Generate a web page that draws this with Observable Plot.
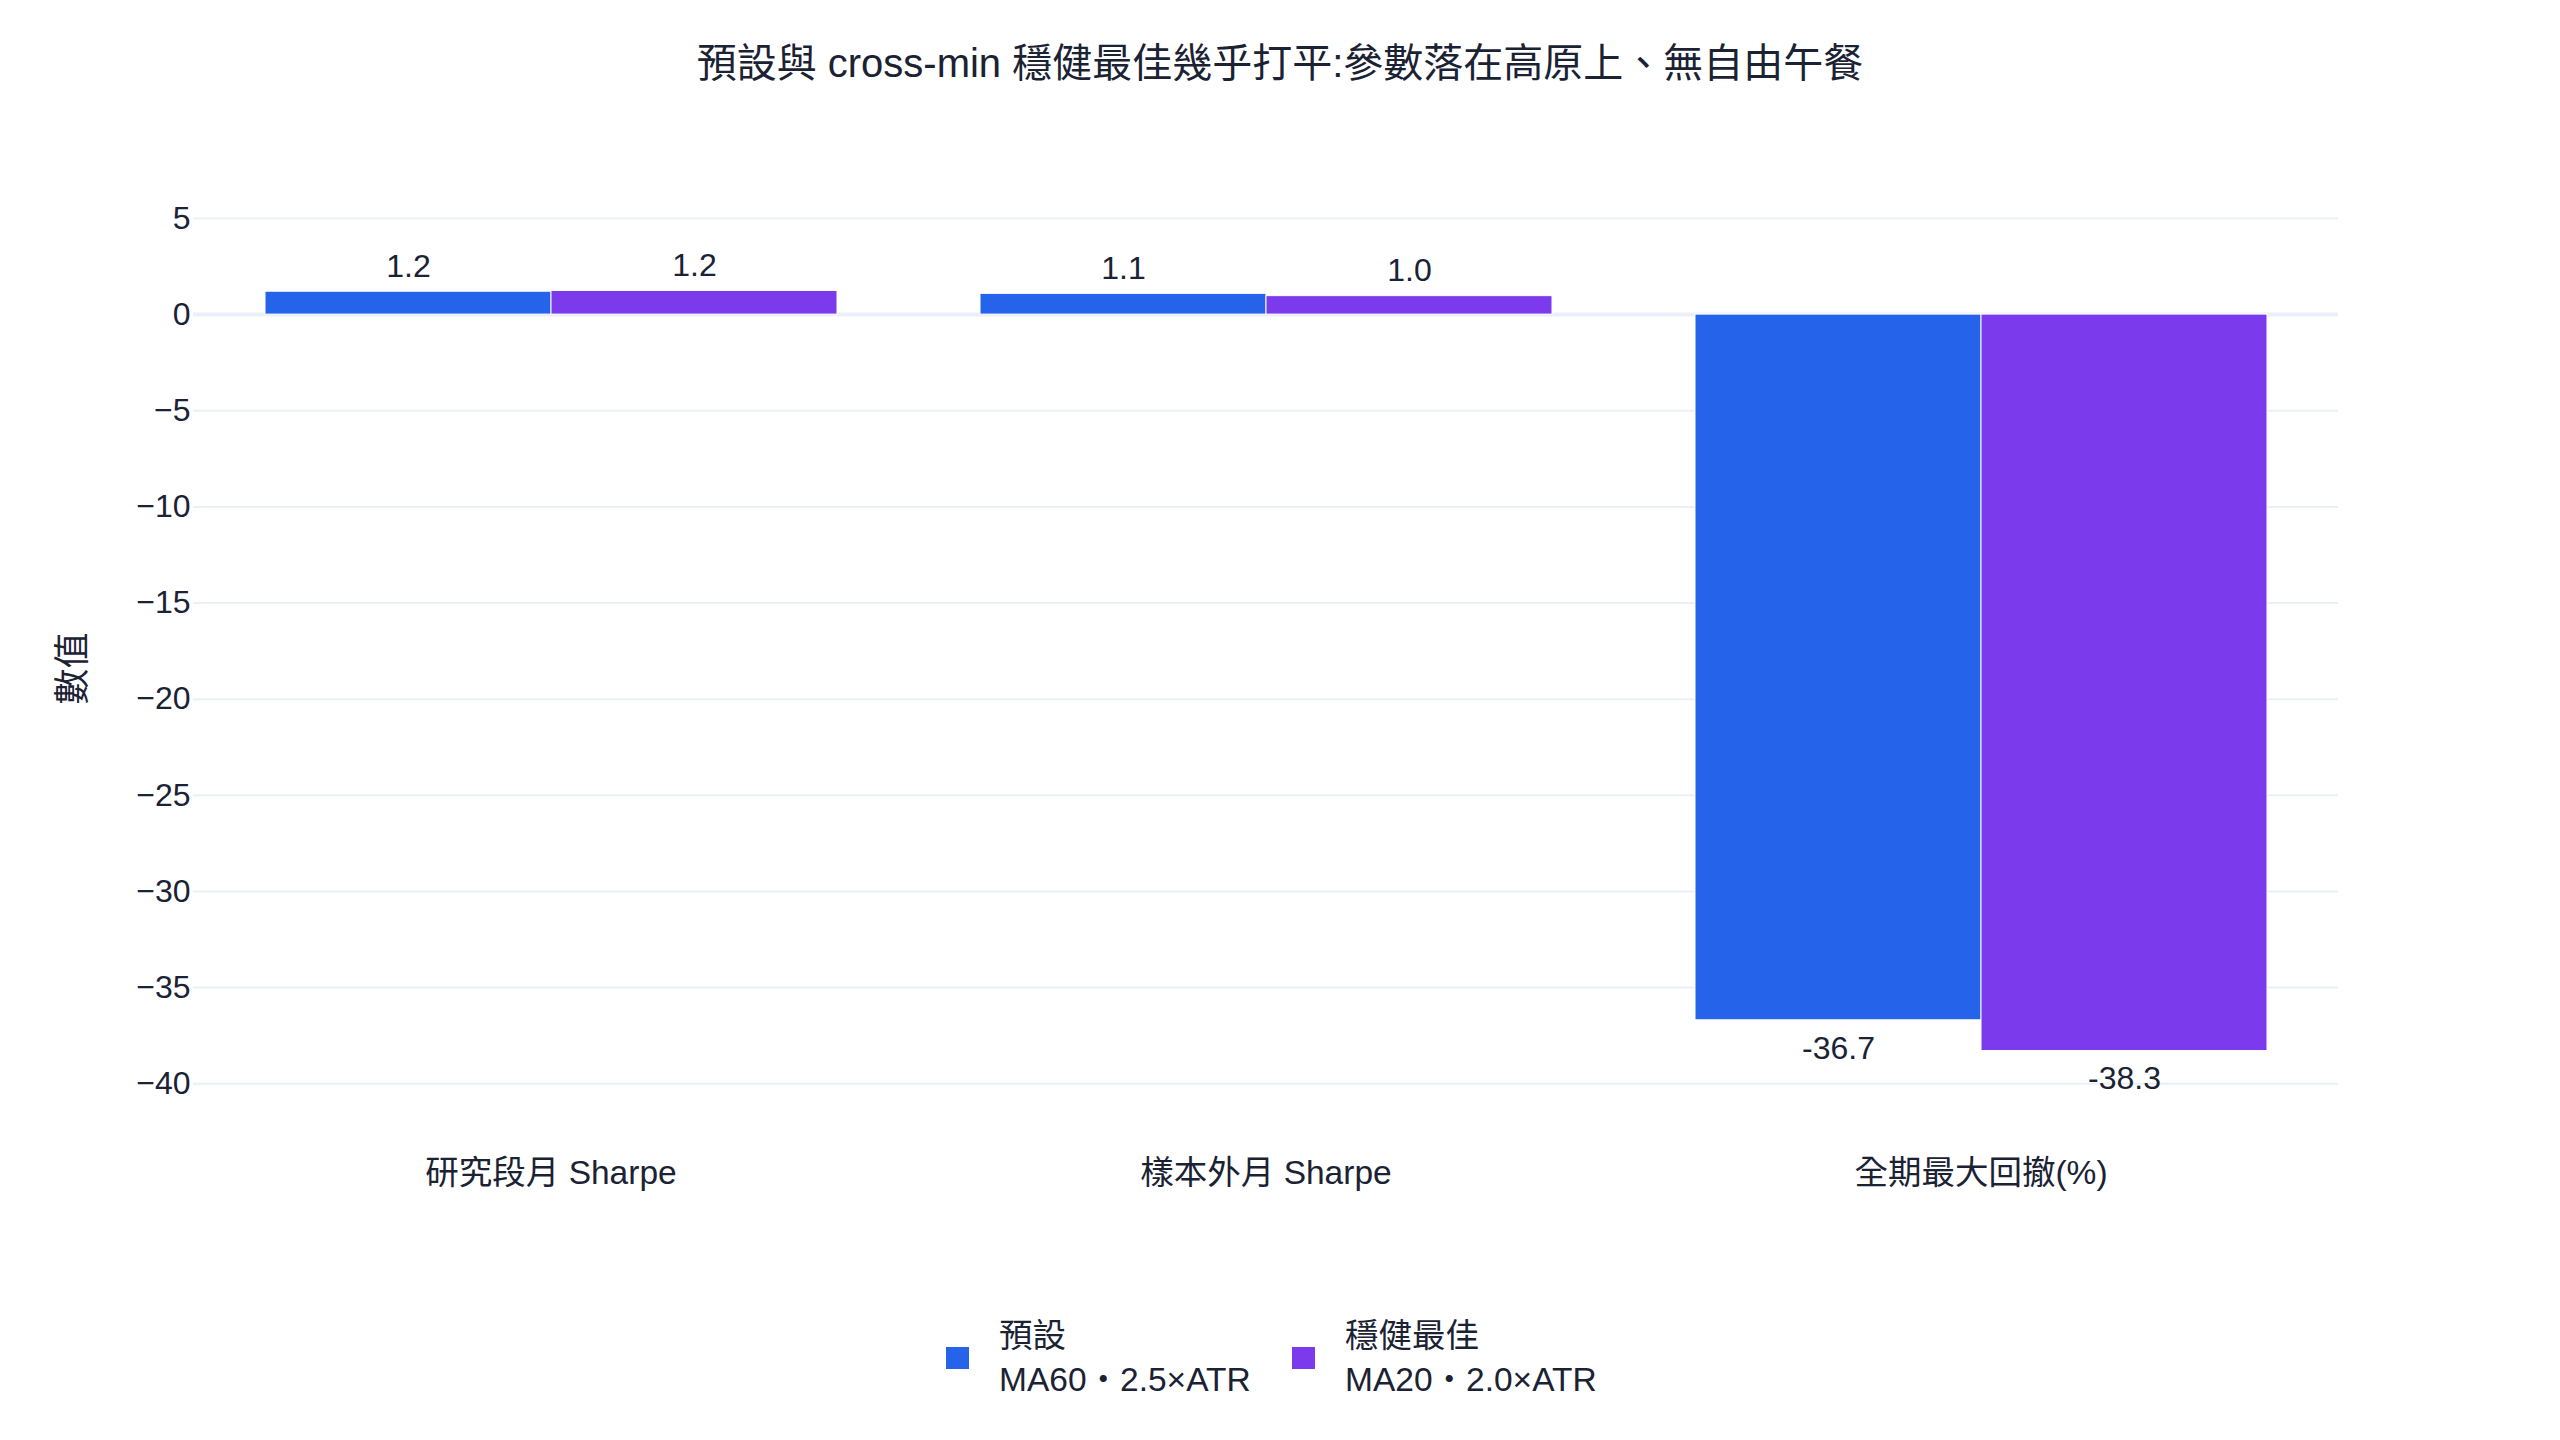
<!DOCTYPE html>
<html>
<head>
<meta charset="utf-8">
<script src="https://cdn.jsdelivr.net/npm/d3@7"></script>
<script src="https://cdn.jsdelivr.net/npm/@observablehq/plot@0.6"></script>
<style>
  html, body { margin: 0; padding: 0; background: #ffffff; }
  body { width: 2560px; height: 1440px; position: relative; overflow: hidden;
         font-family: "Liberation Sans", "Noto Sans CJK TC", sans-serif; color: #1a2233; }
  #title { position: absolute; top: 38px; left: 0; width: 2560px; text-align: center;
           font-size: 40px; line-height: 50px; }
  #chart { position: absolute; top: 100px; left: 0; }
  #legend { position: absolute; top: 1314px; left: 946px; display: flex;
            justify-content: flex-start; font-size: 33.5px; line-height: 44px; }
  .item { display: flex; align-items: center; width: 346px; }
  .sw { width: 23px; height: 22px; margin-right: 30px; flex: none; }
</style>
</head>
<body>
<div id="title"></div>
<div id="chart"></div>
<div id="legend"></div>
<script>
const titleText = "預設與 cross-min 穩健最佳幾乎打平:參數落在高原上、無自由午餐";
const categories = ["研究段月 Sharpe", "樣本外月 Sharpe", "全期最大回撤(%)"];
const seriesNames = ["預設", "穩健最佳"];
const seriesDetails = ["MA60・2.5×ATR", "MA20・2.0×ATR"];
const defaultValues = [1.19, 1.08, -36.7];
const robustValues = [1.23, 0.96, -38.3];
const yTicks = [5, 0, -5, -10, -15, -20, -25, -30, -35, -40];
const yLabel = "數值";
const colors = ["#2563EB", "#7C3AED"];
const textColor = "#1a2233";
const fontFamily = '"Liberation Sans", "Noto Sans CJK TC", sans-serif';

document.getElementById("title").textContent = titleText;

const rows = categories.flatMap((c, i) => [
  {category: c, series: seriesNames[0], value: defaultValues[i]},
  {category: c, series: seriesNames[1], value: robustValues[i]}
]);

const chart = Plot.plot({
  width: 2560,
  height: 1140,
  marginLeft: 192,
  marginRight: 222,
  marginTop: 97,
  marginBottom: 101,
  style: {fontFamily, fontSize: "32px", color: textColor, background: "white", overflow: "visible"},
  fx: {domain: categories, padding: 0, label: null, axis: null},
  x: {domain: seriesNames, paddingInner: 0, paddingOuter: 0.25, axis: null},
  y: {domain: [-42.9, 6.09], axis: null},
  color: {domain: seriesNames, range: colors},
  marks: [
    Plot.ruleY(yTicks.filter(d => d !== 0), {stroke: "#EBF0F8", strokeWidth: 2}),
    Plot.ruleY([0], {stroke: "#EBF0F8", strokeWidth: 4}),
    Plot.barY(rows, {fx: "category", x: "series", y: "value", fill: "series", stroke: "white", strokeWidth: 1}),
    Plot.text(rows.filter(d => d.value >= 0), {fx: "category", x: "series", y: "value",
      text: d => d.value.toFixed(1), dy: -25, fill: textColor}),
    Plot.text(rows.filter(d => d.value < 0), {fx: "category", x: "series", y: "value",
      text: d => d.value.toFixed(1), dy: 28, fill: textColor}),
    Plot.axisY({ticks: yTicks, tickSize: 0, tickPadding: 3, label: null, fill: textColor}),
    Plot.axisY({ticks: [], label: yLabel, labelAnchor: "center", labelOffset: 134,
      labelArrow: false, fontSize: 36, fill: textColor}),
    Plot.axisFx({anchor: "bottom", tickSize: 0, tickPadding: 21, label: null, fontSize: 33.5, fill: textColor})
  ]
});
document.getElementById("chart").appendChild(chart);

const legend = document.getElementById("legend");
seriesNames.forEach((name, i) => {
  const item = document.createElement("div");
  item.className = "item";
  const sw = document.createElement("div");
  sw.className = "sw";
  sw.style.background = colors[i];
  const txt = document.createElement("div");
  const l1 = document.createElement("div"); l1.textContent = name;
  const l2 = document.createElement("div"); l2.textContent = seriesDetails[i];
  txt.appendChild(l1); txt.appendChild(l2);
  item.appendChild(sw); item.appendChild(txt);
  legend.appendChild(item);
});
</script>
</body>
</html>
